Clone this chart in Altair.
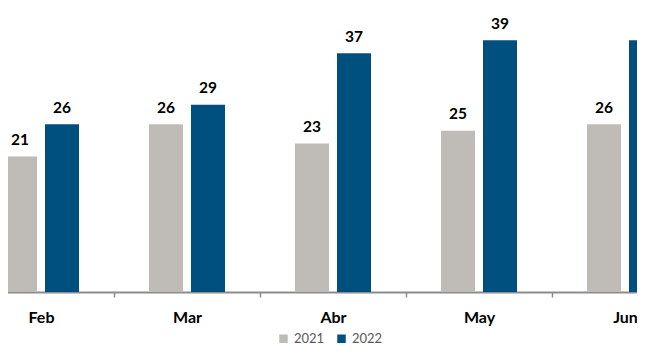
import altair as alt
import pandas as pd

months = ["Feb", "Mar", "Abr", "May", "Jun"]
series = ["2021", "2022"]
v2021 = [21, 26, 23, 25, 26]
v2022 = [26, 29, 37, 39, 39]

rows = []
for i, m in enumerate(months):
    rows.append({"mes": m, "anio": "2021", "valor": v2021[i]})
    rows.append({"mes": m, "anio": "2022", "valor": v2022[i]})
df = pd.DataFrame(rows)

x = alt.X(
    "mes:N", sort=months,
    scale=alt.Scale(domain=months, range=[-40, 690], paddingInner=0, paddingOuter=0),
    axis=alt.Axis(title=None, labelAngle=0, tickBand="extent", domainColor="#8c8c8c",
                  domainWidth=2, tickColor="#8c8c8c", tickSize=5, tickWidth=1.5,
                  labelFont="Lato", labelFontSize=16, labelFontWeight="bold",
                  labelColor="#000000", labelPadding=12, grid=False),
)
xo = alt.XOffset("anio:N", sort=series, scale=alt.Scale(paddingInner=0.1905, paddingOuter=0.8333))
y = alt.Y("valor:Q", scale=alt.Scale(domain=[0, 44], nice=False, zero=True), axis=None)
color = alt.Color(
    "anio:N", sort=series,
    scale=alt.Scale(domain=series, range=["#BFBCB8", "#00507F"]),
    legend=alt.Legend(title=None, orient="none", legendX=269, legendY=324,
                      direction="horizontal", symbolType="square", symbolSize=72,
                      labelFont="Lato", labelFontSize=13, labelColor="#595959",
                      labelOffset=4, columnPadding=10, padding=0, symbolStrokeWidth=0),
)

bars = alt.Chart(df).mark_bar().encode(x=x, xOffset=xo, y=y, color=color)
labels = alt.Chart(df).mark_text(
    dy=-11.5, baseline="alphabetic", font="Lato", fontSize=15.5, fontWeight="bold", color="#000000"
).encode(x=alt.X("mes:N", sort=months), xOffset=alt.XOffset("anio:N", sort=series),
         y="valor:Q", text="valor:Q")

chart = alt.layer(bars, labels).properties(
    width=629, height=284,
    autosize=alt.AutoSizeParams(type="none"),
    padding={"left": 0, "top": 0, "right": 0, "bottom": 56},
).configure_view(stroke=None)

chart.save("out.html", embed_options={"renderer": "svg", "actions": False})
